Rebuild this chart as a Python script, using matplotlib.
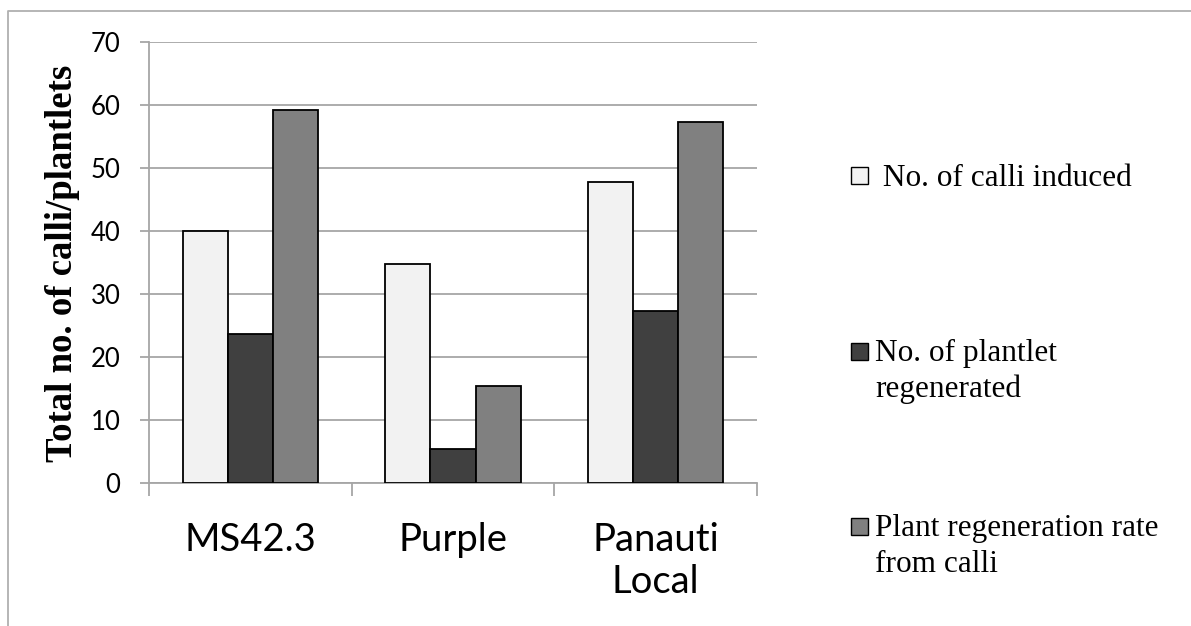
import numpy as np
import matplotlib.pyplot as plt
from matplotlib.patches import Rectangle
from matplotlib.lines import Line2D

# varieties and measured values
varieties = ['MS42.3', 'Purple', 'Panauti\nLocal']
calli_induced = [40.0, 34.7, 47.7]
plantlet_regen = [23.7, 5.4, 27.3]
regen_rate = [59.2, 15.4, 57.3]
series_names = [' No. of calli induced', 'No. of plantlet\nregenerated',
                'Plant regeneration rate\nfrom calli']
series_colors = ['#f2f2f2', '#404040', '#808080']
yticks = [0, 10, 20, 30, 40, 50, 60, 70]

W, H = 1191, 626
fig = plt.figure(figsize=(W / 100, H / 100), dpi=100)

def fx(px): return px / W
def fy(py): return 1 - py / H

ax = fig.add_axes([fx(149), fy(483), fx(757) - fx(149), fy(42) - fy(483)])

grid_c = '#a6a6a6'
x = np.arange(len(varieties))
bw = 1 / 4.5
for i, vals in enumerate([calli_induced, plantlet_regen, regen_rate]):
    ax.bar(x + (i - 1) * bw, vals, bw, color=series_colors[i],
           edgecolor='black', linewidth=1.3, zorder=3)

ax.set_xlim(-0.5, len(varieties) - 0.5)
ax.set_ylim(0, 70)
ax.set_yticks(yticks)
ax.yaxis.grid(True, color=grid_c, linewidth=1.3, zorder=0)
for s in ['top', 'right']:
    ax.spines[s].set_visible(False)
for s in ['left', 'bottom']:
    ax.spines[s].set_color(grid_c)
    ax.spines[s].set_linewidth(1.3)

ax.tick_params(axis='y', length=6.5, width=1.3, color=grid_c, pad=14,
               labelsize=18.5)
ax.set_xticks(x)
ax.set_xticklabels(varieties, fontsize=27.5, linespacing=1.2)
ax.set_xticks(np.arange(len(varieties) + 1) - 0.5, minor=True)
ax.tick_params(axis='x', which='major', length=0, pad=28)
ax.tick_params(axis='x', which='minor', length=9, width=1.3, color=grid_c)
for lab in ax.get_xticklabels() + ax.get_yticklabels():
    lab.set_family('Lato')

fig.text(fx(63), fy(263), 'Total no. of calli/plantlets', rotation=90,
         ha='center', va='center', family='Liberation Serif',
         fontweight='bold', fontsize=26.5)

# legend drawn by hand
leg_y = [176, 352, 527]
for name, col, yc in zip(series_names, series_colors, leg_y):
    fig.patches.append(Rectangle((fx(851), fy(yc + 8)), fx(17), 17 / H,
                                 transform=fig.transFigure, facecolor=col,
                                 edgecolor='black', linewidth=1.0))
    nlines = name.count('\n') + 1
    fig.text(fx(875), fy(yc + 2 + 17.5 * (nlines - 1)), name, ha='left',
             va='center', family='Liberation Serif', fontsize=22.5,
             linespacing=1.33)

# outer frame of the chart area
fig.lines.append(Line2D([fx(8), fx(8), 1.0], [0.0, fy(11), fy(11)],
                        transform=fig.transFigure, color='#b0b0b0',
                        linewidth=1.3))

fig.savefig('out.png', dpi=100)
